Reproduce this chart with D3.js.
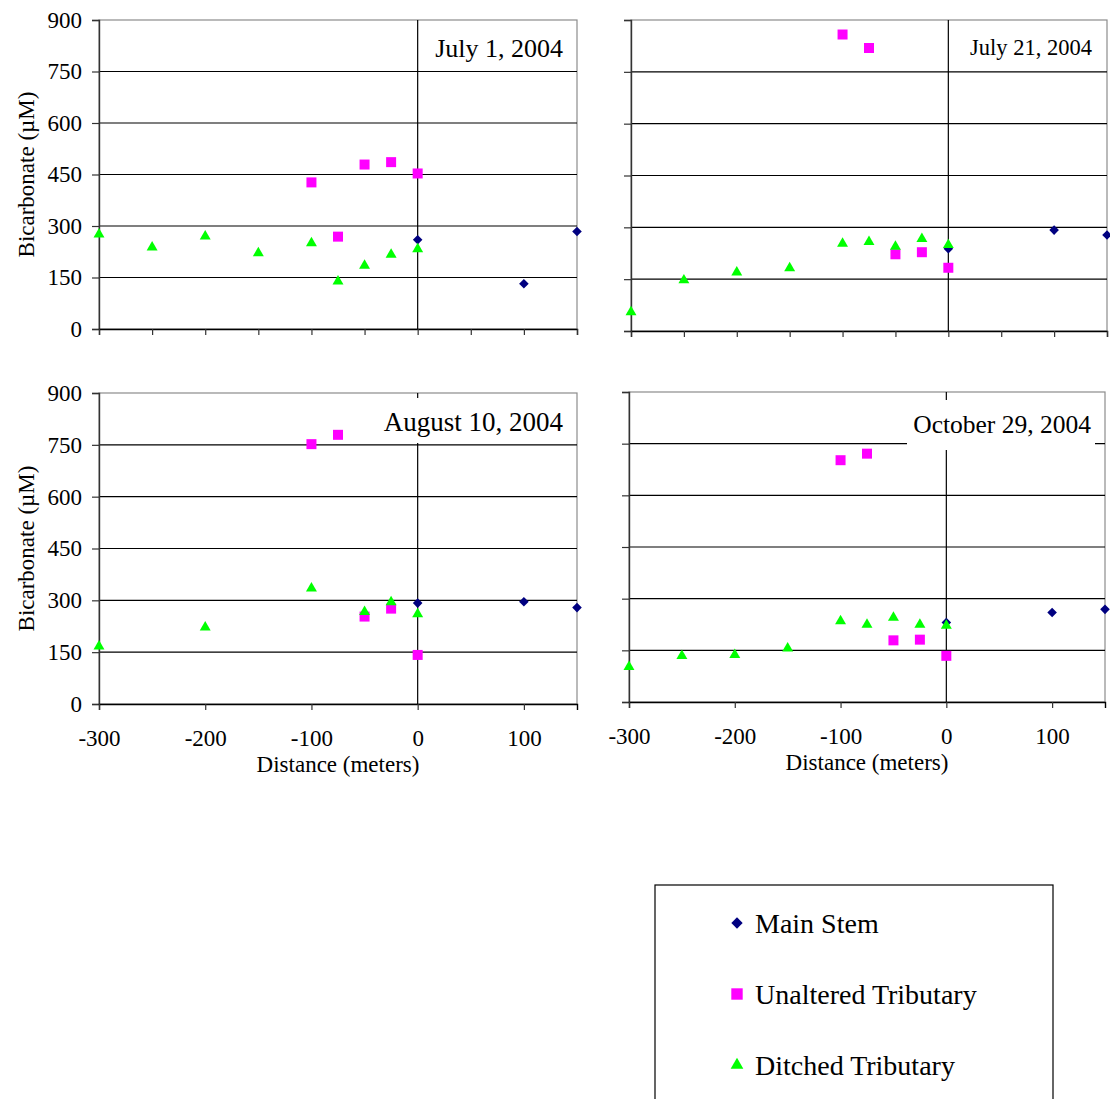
<!DOCTYPE html>
<html>
<head>
<meta charset="utf-8">
<script src="https://cdn.jsdelivr.net/npm/d3@7"></script>
<style>
  html, body { margin: 0; padding: 0; background: #fff; }
  svg text { font-family: "Liberation Serif", "Times New Roman", serif; fill: #000; }
</style>
</head>
<body>
<svg id="chart"></svg>
<script>
// ---- data ----
const dates = ['July 1, 2004', 'July 21, 2004', 'August 10, 2004', 'October 29, 2004'];
const seriesNames = ['Main Stem', 'Unaltered Tributary', 'Ditched Tributary'];

const mainDist = [0, 100, 150];
const unalteredDist = [-100, -75, -50, -25, 0];
const ditchedDist = [-300, -250, -200, -150, -100, -75, -50, -25, 0];
const ditchedDistAug = [-300, -200, -100, -50, -25, 0];

const mainJul1 = [260, 132, 284];
const unaltJul1 = [427, 269, 479, 486, 453];
const ditchJul1 = [276, 238, 270, 221, 250, 139, 185, 217, 233];

const mainJul21 = [238, 292, 278];
const unaltJul21 = [858, 819, 222, 228, 183];
const ditchJul21 = [55, 147, 170, 182, 253, 258, 244, 267, 249];

const mainAug10 = [292, 296, 279];
const unaltAug10 = [752, 779, 253, 276, 142];
const ditchAug10 = [167, 222, 335, 267, 295, 260];

const mainOct29 = [231, 260, 269];
const unaltOct29 = [702, 721, 179, 181, 134];
const ditchOct29 = [102, 134, 137, 156, 235, 225, 245, 225, 222];

const yTicks = [0, 150, 300, 450, 600, 750, 900];
const xTickLabels = [-300, -200, -100, 0, 100];
const xMinorTicks = [-300, -250, -200, -150, -100, -50, 0, 50, 100, 150];

// ---- layout ----
const W = 1110, H = 1099;
const colors = ['#000080', '#ff00ff', '#00ff00'];
const zip = (xs, ys) => xs.map((x, i) => ({ x, y: ys[i] }));
const plain = d => String(d);   // keeps the ascii hyphen for negatives

const panels = [
  { title: dates[0], x0: 99, x1: 577, y0: 20, y1: 329, yLabels: true, xLabels: false,
    tSize: 26, tx: 563, ty: 57, box: null,
    series: [zip(mainDist, mainJul1), zip(unalteredDist, unaltJul1), zip(ditchedDist, ditchJul1)] },
  { title: dates[1], x0: 631, x1: 1107, y0: 20, y1: 331, yLabels: false, xLabels: false,
    tSize: 22.5, tx: 1092, ty: 55, box: null,
    series: [zip(mainDist, mainJul21), zip(unalteredDist, unaltJul21), zip(ditchedDist, ditchJul21)] },
  { title: dates[2], x0: 99, x1: 577, y0: 393, y1: 704, yLabels: true, xLabels: true,
    tSize: 27, tx: 563, ty: 431, box: [374, 398, 196, 45],
    series: [zip(mainDist, mainAug10), zip(unalteredDist, unaltAug10), zip(ditchedDistAug, ditchAug10)] },
  { title: dates[3], x0: 629, x1: 1105, y0: 392, y1: 702, yLabels: false, xLabels: true,
    tSize: 25.5, tx: 1091, ty: 433, box: [907, 400, 188, 50],
    series: [zip(mainDist, mainOct29), zip(unalteredDist, unaltOct29), zip(ditchedDist, ditchOct29)] }
];

const svg = d3.select('#chart').attr('width', W).attr('height', H);
svg.append('rect').attr('width', W).attr('height', H).attr('fill', '#fff');

const symbols = [
  d3.symbol().type(d3.symbolSquare).size(46),   // rotated 45 -> diamond
  d3.symbol().type(d3.symbolSquare).size(100),
  d3.symbol().type(d3.symbolTriangle).size(52)
];

panels.forEach(p => {
  const x = d3.scaleLinear().domain([-300, 150]).range([p.x0, p.x1]);
  const y = d3.scaleLinear().domain([0, 900]).range([p.y1, p.y0]);
  const g = svg.append('g');

  // plot border (gray, top and right)
  g.append('rect')
    .attr('x', p.x0).attr('y', p.y0)
    .attr('width', p.x1 - p.x0).attr('height', p.y1 - p.y0)
    .attr('fill', '#fff').attr('stroke', '#8c8c8c').attr('stroke-width', 1.2);

  // horizontal gridlines
  g.selectAll('.grid').data(yTicks.filter(t => t > 0 && t < 900)).enter()
    .append('line')
    .attr('x1', p.x0).attr('x2', p.x1)
    .attr('y1', d => y(d)).attr('y2', d => y(d))
    .attr('stroke', '#000').attr('stroke-width', 1.2);

  // vertical line at 0 m
  g.append('line')
    .attr('x1', x(0)).attr('x2', x(0))
    .attr('y1', p.y0).attr('y2', p.y1)
    .attr('stroke', '#000').attr('stroke-width', 1.2);

  // title box hides lines behind it
  if (p.box) {
    g.append('rect').attr('x', p.box[0]).attr('y', p.box[1])
      .attr('width', p.box[2]).attr('height', p.box[3]).attr('fill', '#fff');
  }
  g.append('text')
    .attr('x', p.tx).attr('y', p.ty)
    .attr('text-anchor', 'end')
    .attr('font-size', p.tSize)
    .text(p.title);

  // y axis
  const yAxis = d3.axisLeft(y).tickValues(yTicks).tickSize(7).tickPadding(10)
    .tickFormat(p.yLabels ? plain : () => '');
  const ya = g.append('g').attr('transform', `translate(${p.x0},0)`).call(yAxis);
  ya.select('.domain').attr('stroke', '#333').attr('stroke-width', 1.4);
  ya.selectAll('.tick line').attr('stroke', '#333').attr('stroke-width', 1.2);
  ya.selectAll('text').attr('font-size', 23).attr('font-family', '"Liberation Serif", serif');

  // x axis
  const xAxis = p.xLabels
    ? d3.axisBottom(x).tickValues(xTickLabels).tickSize(6).tickPadding(20).tickFormat(plain)
    : d3.axisBottom(x).tickValues(xMinorTicks).tickSize(6).tickFormat(() => '');
  const xa = g.append('g').attr('transform', `translate(0,${p.y1})`).call(xAxis);
  xa.select('.domain').attr('stroke', '#000').attr('stroke-width', 1.4);
  xa.selectAll('.tick line').attr('stroke', '#333').attr('stroke-width', 1.2);
  xa.selectAll('text').attr('font-size', 23).attr('font-family', '"Liberation Serif", serif');

  if (p.yLabels) {
    svg.append('text')
      .attr('transform', `translate(${p.x0 - 65},${(p.y0 + p.y1) / 2}) rotate(-90)`)
      .attr('text-anchor', 'middle')
      .attr('font-size', 23)
      .text('Bicarbonate (\u00b5M)');
  }
  if (p.xLabels) {
    svg.append('text')
      .attr('x', (p.x0 + p.x1) / 2).attr('y', p.y1 + 68)
      .attr('text-anchor', 'middle')
      .attr('font-size', 23)
      .text('Distance (meters)');
  }

  // markers
  p.series.forEach((pts, si) => {
    g.selectAll(null).data(pts).enter()
      .append('path')
      .attr('d', symbols[si])
      .attr('transform', d => `translate(${x(d.x)},${y(d.y)})` + (si === 0 ? ' rotate(45)' : ''))
      .attr('fill', colors[si]);
  });
});

// ---- legend ----
const lg = svg.append('g');
lg.append('rect').attr('x', 655).attr('y', 885).attr('width', 398).attr('height', 260)
  .attr('fill', '#fff').attr('stroke', '#000').attr('stroke-width', 1.2);
const legendSymbols = [
  d3.symbol().type(d3.symbolSquare).size(64),
  d3.symbol().type(d3.symbolSquare).size(130),
  d3.symbol().type(d3.symbolTriangle).size(70)
];
seriesNames.forEach((name, i) => {
  const cy = 923 + i * 71;
  lg.append('path')
    .attr('d', legendSymbols[i])
    .attr('transform', `translate(737,${cy})` + (i === 0 ? ' rotate(45)' : ''))
    .attr('fill', colors[i]);
  lg.append('text').attr('x', 755).attr('y', cy + 10)
    .attr('font-size', 28).text(name);
});
</script>
</body>
</html>
